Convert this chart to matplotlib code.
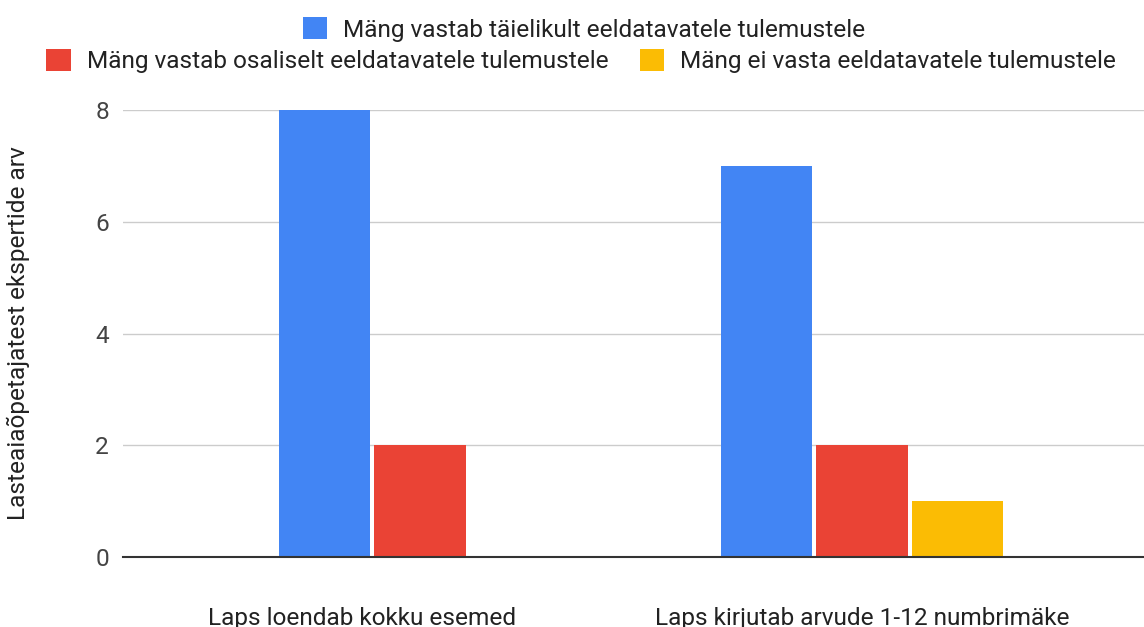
import matplotlib
matplotlib.use("Agg")
import matplotlib.pyplot as plt
import matplotlib.transforms as mtransforms
import numpy as np

categories = ["Laps loendab kokku esemed", "Laps kirjutab arvude 1-12 numbrimäke"]
series_names = [
    "Mäng vastab täielikult eeldatavatele tulemustele",
    "Mäng vastab osaliselt eeldatavatele tulemustele",
    "Mäng ei vasta eeldatavatele tulemustele",
]
full_match = [8, 7]
partial_match = [2, 2]
no_match = [0, 1]
y_ticks = [0, 2, 4, 6, 8]
y_label = "Lasteaiaõpetajatest ekspertide arv"

colors = ["#4285F4", "#EA4335", "#FBBC04"]

plt.rcParams["font.family"] = ["Roboto", "DejaVu Sans"]
FS = 17.6

fig = plt.figure(figsize=(11.44, 6.27), dpi=100)
ax = fig.add_axes([0.1075, 0.1116, 0.8925, 0.713])

x = np.arange(len(categories))
step = 0.217
width = 0.206
handles = []
for i, (vals, c) in enumerate(zip([full_match, partial_match, no_match], colors)):
    h = ax.bar(x + (i - 1) * step, vals, width=width, color=c, zorder=3,
               label=series_names[i])
    handles.append(h)

ax.set_xlim(-0.672, 1.638)
ax.set_ylim(0, 8)
ax.set_yticks(y_ticks)
ax.set_xticks(x)
ax.set_xticklabels(categories, fontsize=FS, color="#222222")
ax.tick_params(axis="x", length=0, pad=36)
ax.tick_params(axis="y", length=0, pad=10, labelsize=FS, labelcolor="#444444")
# first category label sits left of its group centre in the reference
lbl0 = ax.get_xticklabels()[0]
lbl0.set_transform(lbl0.get_transform() +
                   mtransforms.ScaledTranslation(-0.58, 0, fig.dpi_scale_trans))
ax.grid(axis="y", color="#cccccc", linewidth=1, zorder=0)
for s in ["top", "right", "left"]:
    ax.spines[s].set_visible(False)
ax.spines["bottom"].set_color("#333333")
ax.spines["bottom"].set_linewidth(1.5)
ax.spines["bottom"].set_zorder(4)
ax.set_ylabel(y_label, fontsize=FS, color="#222222")
ax.yaxis.set_label_coords(-0.091, 0.5)

common = dict(frameon=False, fontsize=FS, handlelength=1.0, handleheight=1.0,
              handletextpad=0.65, labelcolor="#222222", borderpad=0.2)
leg1 = fig.legend(handles=[handles[0]], labels=[series_names[0]],
                  loc="center", bbox_to_anchor=(0.5105, 0.953), **common)
leg2 = fig.legend(handles=handles[1:], labels=series_names[1:], ncol=2,
                  loc="center", bbox_to_anchor=(0.508, 0.903),
                  columnspacing=1.3, **common)

fig.savefig("out.png", dpi=100)
